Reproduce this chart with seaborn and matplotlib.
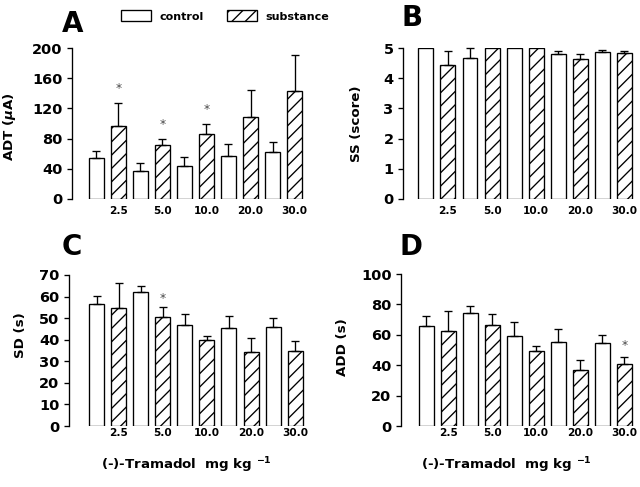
import numpy as np
import pandas as pd
import matplotlib
matplotlib.use("Agg")
import matplotlib.pyplot as plt
import seaborn as sns
from matplotlib.patches import Patch

# doses (mg/kg) shown under the substance bars
doses = ["2.5", "5.0", "10.0", "20.0", "30.0"]
groups = ["control", "substance"]

# A: after-discharge threshold (uA)
adt_ctrl = [54, 37, 44, 57, 62]
adt_ctrl_err = [10, 11, 12, 16, 14]
adt_sub = [97, 71, 86, 109, 143]
adt_sub_err = [30, 9, 13, 36, 48]
adt_star = [1, 1, 1, 0, 0]

# B: seizure severity (score)
ss_ctrl = [5.0, 4.67, 5.0, 4.81, 4.86]
ss_ctrl_err = [0, 0.33, 0, 0.10, 0.06]
ss_sub = [4.44, 5.0, 5.0, 4.64, 4.83]
ss_sub_err = [0.45, 0, 0, 0.16, 0.08]
ss_star = [0, 0, 0, 0, 0]

# C: seizure duration (s)
sd_ctrl = [56.6, 62.1, 46.8, 45.6, 46.1]
sd_ctrl_err = [3.5, 2.8, 5.0, 5.2, 4.1]
sd_sub = [54.9, 50.5, 39.9, 34.5, 34.8]
sd_sub_err = [11.2, 4.5, 1.8, 6.3, 4.5]
sd_star = [0, 1, 0, 0, 0]

# D: after-discharge duration (s)
add_ctrl = [65.9, 74.1, 59.3, 55.4, 54.5]
add_ctrl_err = [6.2, 4.6, 9.1, 8.6, 5.5]
add_sub = [62.6, 66.4, 49.2, 36.7, 40.9]
add_sub_err = [12.8, 7.4, 3.5, 6.4, 4.8]
add_star = [0, 0, 0, 0, 1]

plt.rcParams['font.family'] = ['DejaVu Sans']
plt.rcParams['font.weight'] = 'bold'
plt.rcParams['mathtext.fontset'] = 'custom'
plt.rcParams['mathtext.rm'] = 'DejaVu Sans:bold'
plt.rcParams['mathtext.it'] = 'DejaVu Sans:italic:bold'
plt.rcParams['hatch.linewidth'] = 1.2
plt.rcParams['hatch.color'] = 'black'

fig = plt.figure(figsize=(8, 6.0875), dpi=80)

panels = [
    # letter, ctrl, ctrl_err, sub, sub_err, stars, ylabel, yticks, rect(px), xlim,
    # xtick pad, ylabel x, ylabel y, star offset (pt)
    ("A", adt_ctrl, adt_ctrl_err, adt_sub, adt_sub_err, adt_star, r"ADT ($\mu$A)",
     np.arange(0, 201, 40), (72, 199, 151), (-0.80, 4.60), 6.5, -0.227, 0.48, 7),
    ("B", ss_ctrl, ss_ctrl_err, ss_sub, ss_sub_err, ss_star, "SS (score)",
     np.arange(0, 6, 1), (403, 199, 151), (-0.77, 4.63), 6.5, -0.168, 0.50, 0),
    ("C", sd_ctrl, sd_ctrl_err, sd_sub, sd_sub_err, sd_star, "SD (s)",
     np.arange(0, 71, 10), (69, 426, 151), (-0.88, 4.52), 2.0, -0.176, 0.60, 2),
    ("D", add_ctrl, add_ctrl_err, add_sub, add_sub_err, add_star, "ADD (s)",
     np.arange(0, 101, 20), (401, 426, 152), (-0.82, 4.58), 2.0, -0.218, 0.52, 4),
]

W, H = 640, 487
letter_pos = {"A": (62, 31.7), "B": (401, 26), "C": (62, 255), "D": (400, 255)}

for letter, ctrl, ctrl_err, sub, sub_err, stars, ylab, yticks, rect, xlim, xpad, lx, ly, soff in panels:
    left, bottom, height = rect
    ax = fig.add_axes([left / W, 1 - bottom / H, 238 / W, height / H])

    df = pd.DataFrame({
        "dose": doses * 2,
        "group": ["control"] * 5 + ["substance"] * 5,
        "value": list(ctrl) + list(sub),
    })
    sns.barplot(data=df, x="dose", y="value", hue="group", order=doses,
                hue_order=groups, palette=["white", "white"], edgecolor="black",
                linewidth=1.2, width=1.0, gap=0.32, errorbar=None, legend=False,
                ax=ax)

    errs = [ctrl_err, sub_err]
    bar_sets = list(ax.containers)[:2]
    for k, cont in enumerate(bar_sets):
        for i, bar in enumerate(cont):
            if k == 1:
                bar.set_hatch("//")
            x = bar.get_x() + bar.get_width() / 2
            top = bar.get_height()
            e = errs[k][i]
            if e > 0:
                ax.errorbar(x, top, yerr=[[0], [e]], fmt="none", ecolor="black",
                            elinewidth=1.2, capsize=3.6, capthick=1.2, clip_on=False,
                            zorder=1)
            if k == 1 and stars[i]:
                ax.annotate("*", (x, top + e), xytext=(0, soff), textcoords="offset points",
                            ha="center", va="bottom", fontsize=11, fontweight="normal",
                            color="#444444")

    ax.set_ylim(yticks[0], yticks[-1])
    ax.set_xlim(*xlim)
    ax.set_yticks(yticks)
    ax.set_xticks(np.arange(len(doses)) + 0.25)
    ax.set_xticklabels(doses)
    ax.tick_params(axis="y", direction="out", length=4.5, width=1.2, pad=4, labelsize=13)
    ax.tick_params(axis="x", length=0, pad=xpad, labelsize=9.5)
    for s in ["top", "right", "bottom"]:
        ax.spines[s].set_visible(False)
    ax.spines["left"].set_linewidth(1.2)
    ax.set_xlabel("")
    ax.set_ylabel(ylab, fontsize=12, fontweight="bold")
    ax.yaxis.set_label_coords(lx, ly)

    px, py = letter_pos[letter]
    fig.text(px / W, 1 - py / H, letter, fontsize=25, fontweight="bold",
             ha="left", va="baseline")

# x axis titles under the bottom panels
fig.text(186 / W, 1 - 465 / H, r"(-)-Tramadol  mg kg $^{-1}$", ha="center", va="center",
         fontsize=12, fontweight="bold")
fig.text(506 / W, 1 - 465 / H, r"(-)-Tramadol  mg kg $^{-1}$", ha="center", va="center",
         fontsize=12, fontweight="bold")

handles = [Patch(facecolor="white", edgecolor="black", linewidth=1.2),
           Patch(facecolor="white", edgecolor="black", linewidth=1.2, hatch="//")]
fig.legend(handles, groups, loc="center left", bbox_to_anchor=(121 / W, 1 - 16 / H),
           ncol=2, frameon=False, fontsize=10, handlelength=2.7, handleheight=1.1,
           handletextpad=0.75, columnspacing=2.1, borderpad=0, borderaxespad=0)

fig.savefig("out.png", dpi=80)
